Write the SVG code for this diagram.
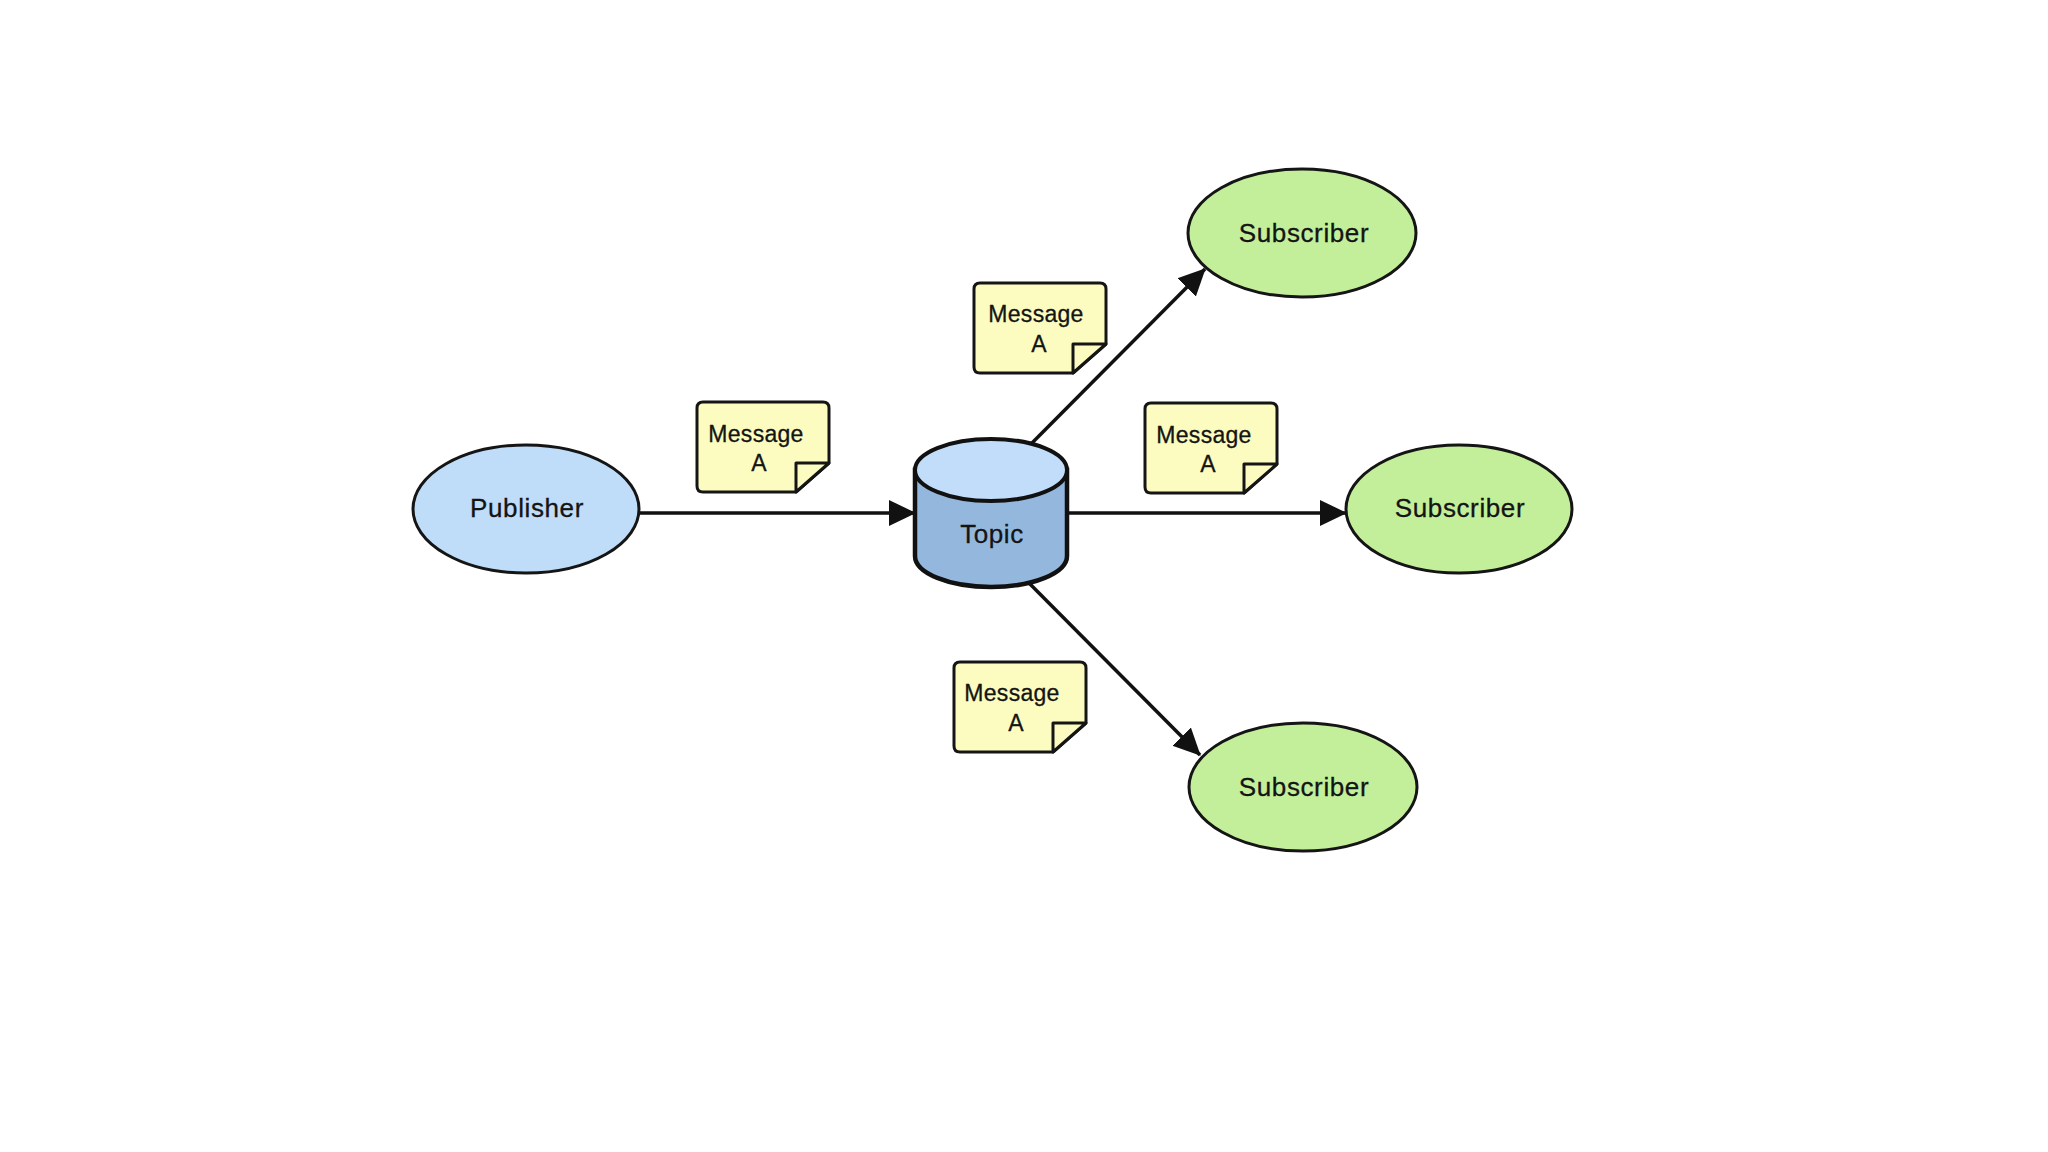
<svg xmlns="http://www.w3.org/2000/svg" xmlns:xlink="http://www.w3.org/1999/xlink" width="2048" height="1152" viewBox="0 0 2048 1152">
<style>
.bg{fill:#ffffff}
.pub{fill:#bfdcf8;stroke:#151515;stroke-width:3}
.sub{fill:#c4ef9a;stroke:#151515;stroke-width:3}
.cylbody{fill:#94b8dd;stroke:#111;stroke-width:4.5}
.cyltop{fill:#c1ddf9;stroke:#111;stroke-width:4}
.note{fill:#fcfcc0;stroke:#151515;stroke-width:3;stroke-linejoin:round}
.conn{stroke:#111;stroke-width:3.5;fill:none}
.lbl{font-family:"Liberation Sans",Arial,sans-serif;font-size:26px;fill:#141414;text-anchor:middle;letter-spacing:0.6px;stroke:#141414;stroke-width:0.3}
.msg{font-family:"Liberation Sans",Arial,sans-serif;font-size:23px;fill:#141414;text-anchor:middle;letter-spacing:0.3px;stroke:#141414;stroke-width:0.3}
</style>
<defs>
<marker id="arrow" markerUnits="userSpaceOnUse" markerWidth="28" markerHeight="28" refX="26" refY="13" orient="auto" viewBox="0 0 28 26">
<path d="M0,0 L27,13 L0,26 Z" fill="#111"/>
</marker>
<g id="notebox">
<path class="note" d="M6,0 H126 Q132,0 132,6 V61 L99,90 H6 Q0,90 0,84 V6 Q0,0 6,0 Z"/>
<path class="note" d="M99,61 H132 L99,90 Z"/>
</g>
</defs>
<rect class="bg" x="0" y="0" width="2048" height="1152"/>

<g id="connectors">
<line class="conn" x1="640" y1="513" x2="915" y2="513" marker-end="url(#arrow)"/>
<line class="conn" x1="1067" y1="513" x2="1346" y2="513" marker-end="url(#arrow)"/>
<line class="conn" x1="1031" y1="444" x2="1205" y2="269" marker-end="url(#arrow)"/>
<line class="conn" x1="1029" y1="583" x2="1200" y2="755" marker-end="url(#arrow)"/>
</g>

<g id="publisher">
<ellipse class="pub" cx="526" cy="509" rx="113" ry="64"/>
<text class="lbl" x="527" y="517">Publisher</text>
</g>

<g id="topic">
<path class="cylbody" d="M915,470 V556 A76,31 0 0 0 1067,556 V470 Z"/>
<ellipse class="cyltop" cx="991" cy="470" rx="76" ry="31"/>
<text class="lbl" x="992" y="543">Topic</text>
</g>

<g id="subscriber-top">
<ellipse class="sub" cx="1302" cy="233" rx="114" ry="64"/>
<text class="lbl" x="1304" y="242">Subscriber</text>
</g>

<g id="subscriber-mid">
<ellipse class="sub" cx="1459" cy="509" rx="113" ry="64"/>
<text class="lbl" x="1460" y="517">Subscriber</text>
</g>

<g id="subscriber-bottom">
<ellipse class="sub" cx="1303" cy="787" rx="114" ry="64"/>
<text class="lbl" x="1304" y="796">Subscriber</text>
</g>

<g id="message-1">
<use xlink:href="#notebox" x="697" y="402"/>
<text class="msg" x="756" y="442">Message</text>
<text class="msg" x="759" y="471">A</text>
</g>

<g id="message-2">
<use xlink:href="#notebox" x="974" y="283"/>
<text class="msg" x="1036" y="322">Message</text>
<text class="msg" x="1039" y="352">A</text>
</g>

<g id="message-3">
<use xlink:href="#notebox" x="1145" y="403"/>
<text class="msg" x="1204" y="443">Message</text>
<text class="msg" x="1208" y="472">A</text>
</g>

<g id="message-4">
<use xlink:href="#notebox" x="954" y="662"/>
<text class="msg" x="1012" y="701">Message</text>
<text class="msg" x="1016" y="731">A</text>
</g>
</svg>
